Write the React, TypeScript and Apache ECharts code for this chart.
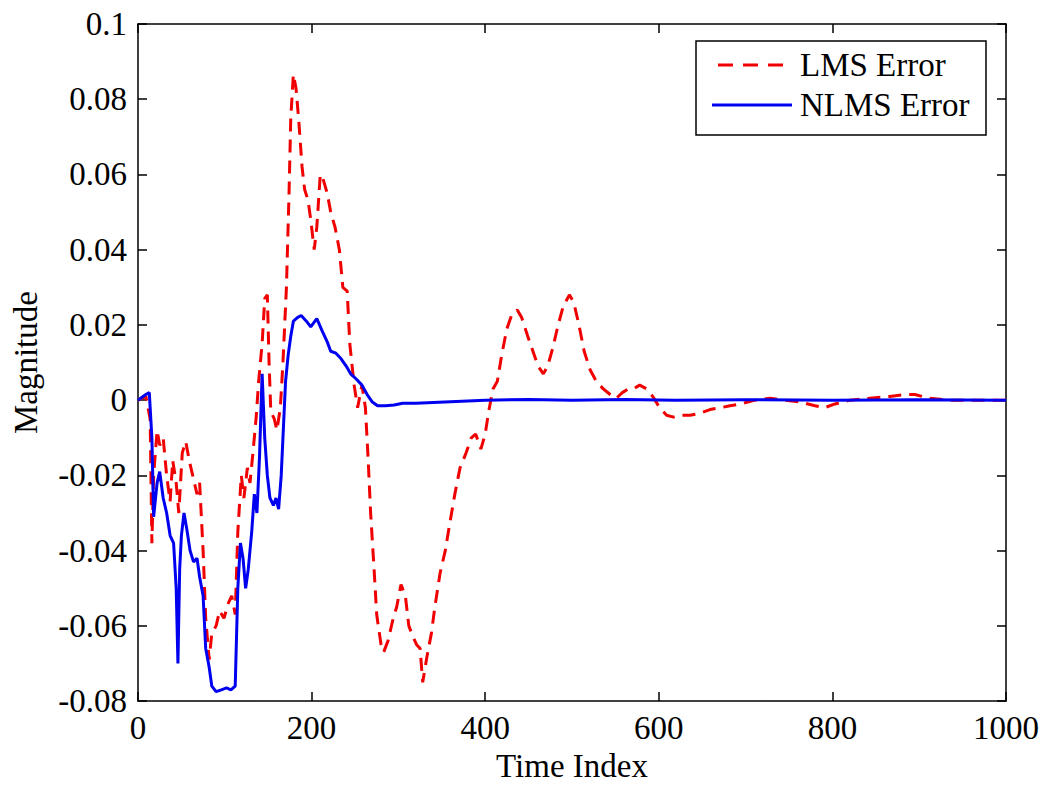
import React, { useEffect, useRef } from "react";
import * as echarts from "echarts";

// Axis ticks
const xTicks = { min: 0, max: 1000, interval: 200 };
const yTicks = { min: -0.08, max: 0.1, interval: 0.02 };

const seriesNames = ["LMS Error", "NLMS Error"];

// LMS error: [time index, magnitude]
const lmsPoints: [number, number][] = [
  [0, 0], [9, 0.001], [14, -0.005], [16, -0.038], [18, -0.02], [22, -0.008], [25, -0.012],
  [29, -0.01], [33, -0.02], [37, -0.027], [40, -0.016], [44, -0.022], [47, -0.03], [51, -0.014],
  [55, -0.011], [59, -0.016], [63, -0.02], [68, -0.025], [71, -0.022], [75, -0.04], [78, -0.058],
  [82, -0.069], [85, -0.062], [90, -0.06], [94, -0.056], [99, -0.058], [104, -0.054], [108, -0.052],
  [112, -0.057], [115, -0.035], [119, -0.02], [122, -0.026], [126, -0.018], [129, -0.022],
  [132, -0.015], [136, -0.005], [139, 0.005], [143, 0.015], [146, 0.027], [149, 0.028],
  [151, 0.01], [153, -0.003], [157, -0.005], [160, -0.008], [164, -0.002], [167, 0.01],
  [171, 0.03], [174, 0.055], [176, 0.075], [179, 0.0866], [182, 0.083], [185, 0.075],
  [189, 0.062], [192, 0.056], [196, 0.053], [199, 0.048], [203, 0.04], [206, 0.046],
  [210, 0.06], [213, 0.059], [218, 0.055], [222, 0.05], [227, 0.046], [232, 0.04], [236, 0.03],
  [241, 0.029], [244, 0.015], [249, 0.004], [253, -0.002], [258, 0.004], [262, -0.002],
  [265, -0.015], [268, -0.03], [272, -0.045], [275, -0.057], [280, -0.065], [283, -0.067],
  [288, -0.064], [294, -0.058], [298, -0.055], [303, -0.049], [308, -0.052], [312, -0.06],
  [317, -0.063], [321, -0.065], [325, -0.066], [328, -0.075], [333, -0.068], [338, -0.062],
  [342, -0.055], [348, -0.046], [354, -0.04], [359, -0.033], [365, -0.025], [371, -0.018],
  [378, -0.014], [384, -0.01], [389, -0.009], [395, -0.013], [400, -0.009], [404, -0.003],
  [409, 0.003], [414, 0.005], [419, 0.012], [425, 0.019], [431, 0.023], [437, 0.024],
  [442, 0.022], [449, 0.017], [455, 0.013], [461, 0.009], [467, 0.007], [472, 0.009],
  [478, 0.014], [484, 0.02], [490, 0.025], [497, 0.028], [502, 0.026], [508, 0.02],
  [514, 0.013], [521, 0.008], [528, 0.005], [536, 0.003], [544, 0.0015], [551, 0.0005],
  [558, 0.002], [565, 0.003], [571, 0.003], [578, 0.004], [586, 0.003], [593, 0.001],
  [601, -0.002], [609, -0.004], [617, -0.0045], [626, -0.004], [636, -0.004], [647, -0.0035],
  [659, -0.0025], [671, -0.002], [682, -0.0015], [694, -0.001], [711, 0], [728, 0.0005],
  [745, 0], [763, -0.0005], [780, -0.0015], [791, -0.002], [803, -0.001], [820, 0],
  [843, 0.0005], [866, 0.001], [884, 0.0015], [895, 0.0015], [912, 0.0005], [935, 0], [1000, 0],
];

// NLMS error: [time index, magnitude]
const nlmsPoints: [number, number][] = [
  [0, 0], [9, 0.0015], [13, 0.002], [16, -0.01], [18, -0.031], [22, -0.022], [25, -0.019],
  [29, -0.026], [33, -0.03], [37, -0.036], [41, -0.038], [44, -0.05], [46, -0.07], [48, -0.045],
  [50, -0.036], [53, -0.03], [56, -0.034], [60, -0.04], [64, -0.043], [68, -0.042], [71, -0.047],
  [75, -0.052], [78, -0.066], [82, -0.071], [85, -0.076], [90, -0.0775], [96, -0.077],
  [102, -0.0765], [107, -0.077], [112, -0.076], [115, -0.05], [118, -0.038], [121, -0.042],
  [124, -0.05], [127, -0.045], [131, -0.035], [134, -0.025], [137, -0.03], [140, -0.015],
  [143, 0.007], [146, -0.01], [149, -0.02], [152, -0.026], [156, -0.028], [159, -0.026],
  [162, -0.029], [165, -0.02], [167, -0.01], [170, 0.005], [173, 0.012], [176, 0.017],
  [179, 0.021], [184, 0.022], [188, 0.0225], [194, 0.021], [199, 0.0195], [206, 0.0217],
  [212, 0.0185], [218, 0.0155], [222, 0.013], [228, 0.0125], [234, 0.011], [240, 0.009],
  [245, 0.007], [252, 0.0055], [258, 0.004], [264, 0.0015], [270, -0.0005], [276, -0.0015],
  [285, -0.0015], [295, -0.0013], [305, -0.0008], [320, -0.0008], [340, -0.0006],
  [360, -0.0004], [380, -0.0002], [400, 0], [450, 0.0002], [500, 0], [560, 0.0002], [620, 0],
  [700, 0.0001], [800, 0], [900, 0.0001], [1000, 0],
];

const FONT = "Liberation Serif";
const RED = "#f00000";
const BLUE = "#0000f0";

export default function App() {
  const ref = useRef<HTMLDivElement>(null);

  useEffect(() => {
    if (!ref.current) return;
    const chart = echarts.init(ref.current, undefined, { renderer: "svg" });
    const fmt = (v: number) => String(parseFloat(v.toFixed(2)));
    const axisLine = { show: true, onZero: false, lineStyle: { color: "#000", width: 1.5 } };
    const tick = { show: true, inside: true, length: 9, lineStyle: { color: "#000", width: 1.5 } };
    chart.setOption({
      animation: false,
      backgroundColor: "#fff",
      grid: { left: 138, right: 39, top: 24, bottom: 78 },
      xAxis: [
        {
          type: "value", ...xTicks, position: "bottom",
          name: "Time Index", nameLocation: "middle", nameGap: 47,
          nameTextStyle: { fontFamily: FONT, fontSize: 33, color: "#000" },
          axisLine, axisTick: tick, splitLine: { show: false },
          axisLabel: { fontFamily: FONT, fontSize: 33, color: "#000", margin: 10, formatter: fmt },
        },
        {
          type: "value", ...xTicks, position: "top",
          axisLine, axisTick: tick, splitLine: { show: false }, axisLabel: { show: false },
        },
      ],
      yAxis: [
        {
          type: "value", ...yTicks, position: "left",
          name: "Magnitude", nameLocation: "middle", nameGap: 96,
          nameTextStyle: { fontFamily: FONT, fontSize: 33, color: "#000" },
          axisLine, axisTick: tick, splitLine: { show: false },
          axisLabel: { fontFamily: FONT, fontSize: 33, color: "#000", margin: 11, formatter: fmt },
        },
        {
          type: "value", ...yTicks, position: "right",
          axisLine, axisTick: tick, splitLine: { show: false }, axisLabel: { show: false },
        },
      ],
      series: [
        {
          name: seriesNames[0], type: "line", data: lmsPoints, symbol: "none",
          lineStyle: { color: RED, width: 3, type: [13, 8] }, z: 2,
        },
        {
          name: seriesNames[1], type: "line", data: nlmsPoints, symbol: "none",
          lineStyle: { color: BLUE, width: 3 }, z: 3,
        },
      ],
      graphic: [
        {
          type: "rect", z: 100,
          shape: { x: 696, y: 41, width: 290, height: 94 },
          style: { fill: "#fff", stroke: "#000", lineWidth: 1.5 },
        },
        {
          type: "line", z: 101,
          shape: { x1: 718, y1: 65, x2: 792, y2: 65 },
          style: { stroke: RED, lineWidth: 3, lineDash: [15, 10] },
        },
        {
          type: "text", z: 101, x: 800, y: 65,
          style: { text: seriesNames[0], fontFamily: FONT, fontSize: 33, fill: "#000", verticalAlign: "middle" },
        },
        {
          type: "line", z: 101,
          shape: { x1: 712, y1: 105, x2: 792, y2: 105 },
          style: { stroke: BLUE, lineWidth: 3 },
        },
        {
          type: "text", z: 101, x: 800, y: 105,
          style: { text: seriesNames[1], fontFamily: FONT, fontSize: 33, fill: "#000", verticalAlign: "middle" },
        },
      ],
    });
    return () => chart.dispose();
  }, []);

  return (
    <div
      ref={ref}
      style={{ position: "fixed", left: 0, top: 0, width: 1045, height: 787, background: "#fff" }}
    />
  );
}
